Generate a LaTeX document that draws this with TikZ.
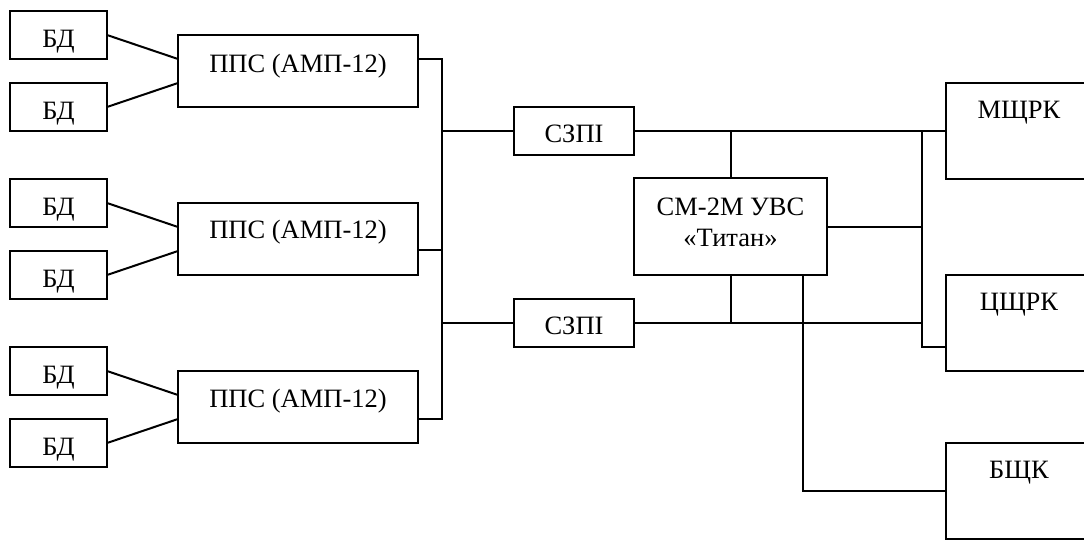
\documentclass[tikz,border=0pt]{standalone}
\usepackage{fontspec}
\setmainfont{Liberation Serif}
\usetikzlibrary{calc}
\tikzset{
  blk/.style={draw, line width=2pt, inner sep=0pt, outer sep=0pt, anchor=north west},
  lbl/.style={font=\fontsize{26.5}{32}\selectfont, inner sep=0pt, anchor=base},
  wire/.style={line width=2pt}
}
\begin{document}
\begin{tikzpicture}[x=1pt, y=-1pt]
\useasboundingbox (0,0) rectangle (1084,539);
% BD boxes
\node[blk, minimum width=97, minimum height=48] (bd1) at (10,11) {};
\node[blk, minimum width=97, minimum height=48] (bd2) at (10,83) {};
\node[blk, minimum width=97, minimum height=48] (bd3) at (10,179) {};
\node[blk, minimum width=97, minimum height=48] (bd4) at (10,251) {};
\node[blk, minimum width=97, minimum height=48] (bd5) at (10,347) {};
\node[blk, minimum width=97, minimum height=48] (bd6) at (10,419) {};
\node[lbl] (bd1t) at ($(bd1.north)+(0,36)$) {БД};
\node[lbl] (bd2t) at ($(bd2.north)+(0,36)$) {БД};
\node[lbl] (bd3t) at ($(bd3.north)+(0,36)$) {БД};
\node[lbl] (bd4t) at ($(bd4.north)+(0,36)$) {БД};
\node[lbl] (bd5t) at ($(bd5.north)+(0,36)$) {БД};
\node[lbl] (bd6t) at ($(bd6.north)+(0,36)$) {БД};
% PPS boxes
\node[blk, minimum width=240, minimum height=72] (pps1) at (178,35) {};
\node[blk, minimum width=240, minimum height=72] (pps2) at (178,203) {};
\node[blk, minimum width=240, minimum height=72] (pps3) at (178,371) {};
\node[lbl] (pps1t) at ($(pps1.north)+(0,37)$) {ППС (АМП-12)};
\node[lbl] (pps2t) at ($(pps2.north)+(0,35)$) {ППС (АМП-12)};
\node[lbl] (pps3t) at ($(pps3.north)+(0,36)$) {ППС (АМП-12)};
% SZPI
\node[blk, minimum width=120, minimum height=48] (szp1) at (514,107) {};
\node[blk, minimum width=120, minimum height=48] (szp2) at (514,299) {};
\node[lbl] (szp1t) at ($(szp1.north)+(0,35)$) {СЗПІ};
\node[lbl] (szp2t) at ($(szp2.north)+(0,35)$) {СЗПІ};
% Titan
\node[blk, minimum width=193, minimum height=97] (titan) at (634,178) {};
\node[lbl] (titanA) at ($(titan.north)+(0,37)$) {СМ-2М УВС};
\node[lbl] (titanB) at ($(titan.north)+(0,68)$) {«Титан»};
% right boxes
\node[blk, minimum width=146, minimum height=96] (mshrk) at (946,83) {};
\node[blk, minimum width=146, minimum height=96] (cshrk) at (946,275) {};
\node[blk, minimum width=146, minimum height=96] (bshk) at (946,443) {};
\node[lbl] (mshrkt) at ($(mshrk.north)+(0,35)$) {МЩРК};
\node[lbl] (cshrkt) at ($(cshrk.north)+(0,35)$) {ЦЩРК};
\node[lbl] (bshkt) at ($(bshk.north)+(0,35)$) {БЩК};
% BD to PPS
\draw[wire] (bd1.east) -- ($(pps1.west)+(0,-12)$);
\draw[wire] (bd2.east) -- ($(pps1.west)+(0,12)$);
\draw[wire] (bd3.east) -- ($(pps2.west)+(0,-12)$);
\draw[wire] (bd4.east) -- ($(pps2.west)+(0,12)$);
\draw[wire] (bd5.east) -- ($(pps3.west)+(0,-12)$);
\draw[wire] (bd6.east) -- ($(pps3.west)+(0,12)$);
% bus
\coordinate (busTop) at (442,59);
\coordinate (busBot) at (442,419);
\coordinate (p1o) at ($(pps1.east)+(0,-12)$);
\coordinate (p2o) at ($(pps2.east)+(0,11)$);
\coordinate (p3o) at ($(pps3.east)+(0,12)$);
\draw[wire] (p1o) -- (busTop) -- (busBot) -- (p3o);
\draw[wire] (p2o) -- (busTop |- p2o);
\draw[wire] (szp1.west) -- (busTop |- szp1.west);
\draw[wire] (szp2.west) -- (busTop |- szp2.west);
% right side
\coordinate (rb) at (922,131);
\draw[wire] (szp1.east) -- (mshrk.west);
\draw[wire] (titan.north) -- (titan.north |- szp1.east);
\draw[wire] (titan.south) -- (titan.south |- szp2.east);
\draw[wire] (szp2.east) -- (rb |- szp2.east);
\draw[wire] (titan.east) -- (rb |- titan.east);
\coordinate (cin) at ($(cshrk.west)+(0,24)$);
\draw[wire] (rb) -- (rb |- cin) -- (cin);
\coordinate (tb) at ($(titan.south east)+(-24,0)$);
\draw[wire] (tb) -- (tb |- bshk.west) -- (bshk.west);
\end{tikzpicture}
\end{document}
